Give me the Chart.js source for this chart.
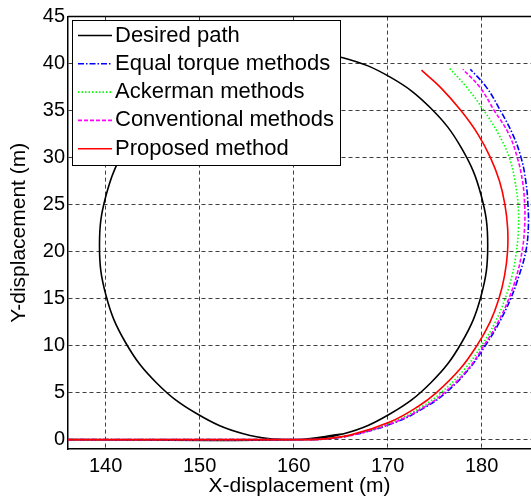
<!DOCTYPE html>
<html>
<head>
<meta charset="utf-8">
<script src="https://cdn.jsdelivr.net/npm/chart.js@4.4.0/dist/chart.umd.min.js"></script>
<style>
html, body { margin: 0; padding: 0; background: #fff; overflow: hidden; }
#wrap { width: 531px; height: 502px; }
</style>
</head>
<body>
<div id="wrap"><canvas id="pathChart" width="531" height="502"></canvas></div>
<script>
// axis ticks
const xTicks = [140, 150, 160, 170, 180]
const yTicks = [0, 5, 10, 15, 20, 25, 30, 35, 40, 45]

// desired path: straight run then the full circle (last point repeats the start of the arc)
const desiredX = [136, 160, 165.34, 170.33, 174.6, 177.88, 179.95, 180.65, 179.95, 177.88, 174.6, 170.33, 165.34, 160, 154.66, 149.67, 145.4, 142.12, 140.05, 139.35, 140.05, 142.12, 145.4, 149.67, 154.66, 160, 165.34]
const desiredY = [0, 0, 0.62, 2.77, 6.05, 10.33, 15.31, 20.65, 25.99, 30.98, 35.25, 38.53, 40.6, 41.3, 40.6, 38.53, 35.25, 30.98, 25.99, 20.65, 15.31, 10.33, 6.05, 2.77, 0.62, 0, 0.62]

// vehicle trajectories
const equalX = [136, 161.5, 163, 166.4, 171.0, 174.1, 176.2, 178.65, 180.4, 181.9, 183.1, 184.0, 184.7, 184.97, 184.93, 184.7, 184.2, 183.3, 182.0, 180.5, 178.8]
const equalY = [0, 0, 0.03, 0.5, 1.9, 3.5, 5, 7.5, 10, 12.5, 15, 17.5, 20, 22.5, 25, 27.5, 30, 32.5, 35, 37.5, 39.4]

const ackermanX = [136, 161.5, 163, 166.25, 170.65, 173.65, 175.7, 178.2, 180.0, 181.45, 182.5, 183.25, 183.7, 183.92, 183.88, 183.55, 182.95, 181.8, 180.25, 178.4, 176.5]
const ackermanY = [0, 0, 0.04, 0.5, 1.9, 3.5, 5, 7.5, 10, 12.5, 15, 17.5, 20, 22.5, 25, 27.5, 30, 32.5, 35, 37.5, 39.6]

const conventionalX = [136, 161.5, 163, 166.35, 170.85, 173.95, 176.05, 178.55, 180.25, 181.75, 182.9, 183.75, 184.3, 184.57, 184.58, 184.35, 183.8, 182.9, 181.35, 179.8, 178.0]
const conventionalY = [0, 0, 0.03, 0.5, 1.9, 3.5, 5, 7.5, 10, 12.5, 15, 17.5, 20, 22.5, 25, 27.5, 30, 32.5, 35, 37.5, 39.4]

const proposedX = [136, 161.5, 163, 166.1, 170.3, 173.2, 175.2, 177.7, 179.5, 180.9, 181.85, 182.45, 182.76, 182.77, 182.48, 181.9, 180.94, 179.6, 177.8, 175.6, 173.6]
const proposedY = [0, 0, 0.05, 0.5, 1.9, 3.5, 5, 7.5, 10, 12.5, 15, 17.5, 20, 22.5, 25, 27.5, 30, 32.5, 35, 37.5, 39.3]

const pts = (xs, ys) => xs.map((x, i) => ({x: x, y: ys[i]}))

const font = '"Liberation Sans", Arial, Helvetica, sans-serif'

// top frame line + boxed legend inside the plot
const framePlugin = {
    id: 'frame',
    afterDatasetsDraw(chart) {
        const {ctx, chartArea} = chart
        ctx.save()
        ctx.strokeStyle = '#000'
        ctx.lineWidth = 1.5
        ctx.beginPath()
        ctx.moveTo(chartArea.left, chartArea.top)
        ctx.lineTo(chartArea.right, chartArea.top)
        ctx.stroke()

        const lx = 72, ly = 20, lw = 268, lh = 145
        ctx.fillStyle = '#fff'
        ctx.fillRect(lx, ly, lw, lh)
        ctx.lineWidth = 1
        ctx.strokeRect(lx + 0.5, ly + 0.5, lw, lh)
        ctx.font = '22px ' + font
        ctx.textBaseline = 'middle'
        chart.data.datasets.forEach((ds, i) => {
            const y = ly + 15.5 + i * 28.3
            ctx.strokeStyle = ds.borderColor
            ctx.lineWidth = ds.borderWidth
            ctx.setLineDash(ds.borderDash || [])
            ctx.beginPath()
            ctx.moveTo(lx + 6, y)
            ctx.lineTo(lx + 40, y)
            ctx.stroke()
            ctx.setLineDash([])
            ctx.fillStyle = '#000'
            ctx.fillText(ds.label, lx + 43, y)
        })
        ctx.restore()
    }
}

const line = (label, xs, ys, color, dash, order) => ({
    label: label,
    data: pts(xs, ys),
    borderColor: color,
    borderWidth: 1.6,
    borderDash: dash,
    showLine: true,
    pointRadius: 0,
    tension: 0.4,
    fill: false,
    order: order
})

new Chart(document.getElementById('pathChart'), {
    type: 'scatter',
    data: {
        datasets: [
            line('Desired path', desiredX, desiredY, '#000000', [], 5),
            line('Equal torque methods', equalX, equalY, '#0000ff', [6, 2, 1.5, 2], 4),
            line('Ackerman methods', ackermanX, ackermanY, '#00ff00', [1.5, 2], 3),
            line('Conventional methods', conventionalX, conventionalY, '#ff00ff', [4, 2], 2),
            line('Proposed method', proposedX, proposedY, '#ff0000', [], 1)
        ]
    },
    options: {
        responsive: false,
        animation: false,
        layout: { padding: { top: 16.6, right: 0, left: 0, bottom: 0 } },
        plugins: {
            legend: { display: false },
            tooltip: { enabled: false }
        },
        scales: {
            x: {
                type: 'linear',
                min: 136,
                max: 185.255,
                afterBuildTicks: s => { s.ticks = xTicks.map(v => ({value: v})) },
                afterFit: s => { s.height = 53 },
                grid: { color: 'rgba(0,0,0,0.75)', lineWidth: 1, drawTicks: false },
                border: { display: true, color: '#000', width: 1.5, dash: [4, 3] },
                ticks: { color: '#000', padding: 5, font: { family: font, size: 20 } },
                title: { display: true, text: 'X-displacement (m)', color: '#000', padding: { top: 0, bottom: 3 }, font: { family: font, size: 21 } }
            },
            y: {
                type: 'linear',
                min: -1,
                max: 45,
                afterBuildTicks: s => { s.ticks = yTicks.map(v => ({value: v})) },
                afterFit: s => { s.width = 68 },
                grid: { color: 'rgba(0,0,0,0.75)', lineWidth: 1, drawTicks: false },
                border: { display: true, color: '#000', width: 1.5, dash: [4, 3] },
                ticks: { color: '#000', padding: 3, font: { family: font, size: 20 } },
                title: { display: true, text: 'Y-displacement (m)', color: '#000', padding: { top: 7, bottom: 0 }, font: { family: font, size: 21 } }
            }
        }
    },
    plugins: [framePlugin]
});
</script>
</body>
</html>
